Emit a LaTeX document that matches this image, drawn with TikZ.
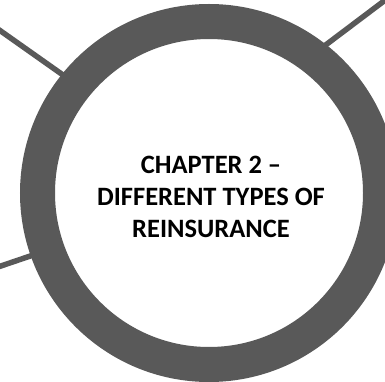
\documentclass[tikz,border=0pt]{standalone}
\usepackage{fontspec}
\setmainfont{Carlito}
\definecolor{ringgray}{RGB}{89,89,89}

\tikzset{
    % Ring and spokes - dark grey
    ring/.style={circle, draw=ringgray, line width=35pt, fill=white, minimum size=343pt, inner sep=0pt},
    spoke/.style={ringgray, line width=5.5pt},
    % Title text
    title label/.style={font=\fontsize{26.5}{31.7}\selectfont\bfseries, align=center, black},
}

\begin{document}
\begin{tikzpicture}[x=1pt,y=-1pt]
    % Frame of the picture
    \useasboundingbox (0,0) rectangle (385,382);
    \clip (0,0) rectangle (385,382);

    % Spokes (ends hidden under the ring)
    \coordinate (nw) at (-5,27);
    \coordinate (nw end) at (80,87);
    \coordinate (ne) at (388,-2);
    \coordinate (ne end) at (315,53);
    \coordinate (sw) at (-5,268);
    \coordinate (sw end) at (45,251);
    \draw[spoke] (nw) -- (nw end);
    \draw[spoke] (ne) -- (ne end);
    \draw[spoke] (sw) -- (sw end);

    % Ring
    \node[ring] (chapter) at (209,193) {};

    % Title
    \node[title label] (title) at (211,197) {CHAPTER 2 --\\DIFFERENT TYPES OF\\REINSURANCE};
\end{tikzpicture}
\end{document}
